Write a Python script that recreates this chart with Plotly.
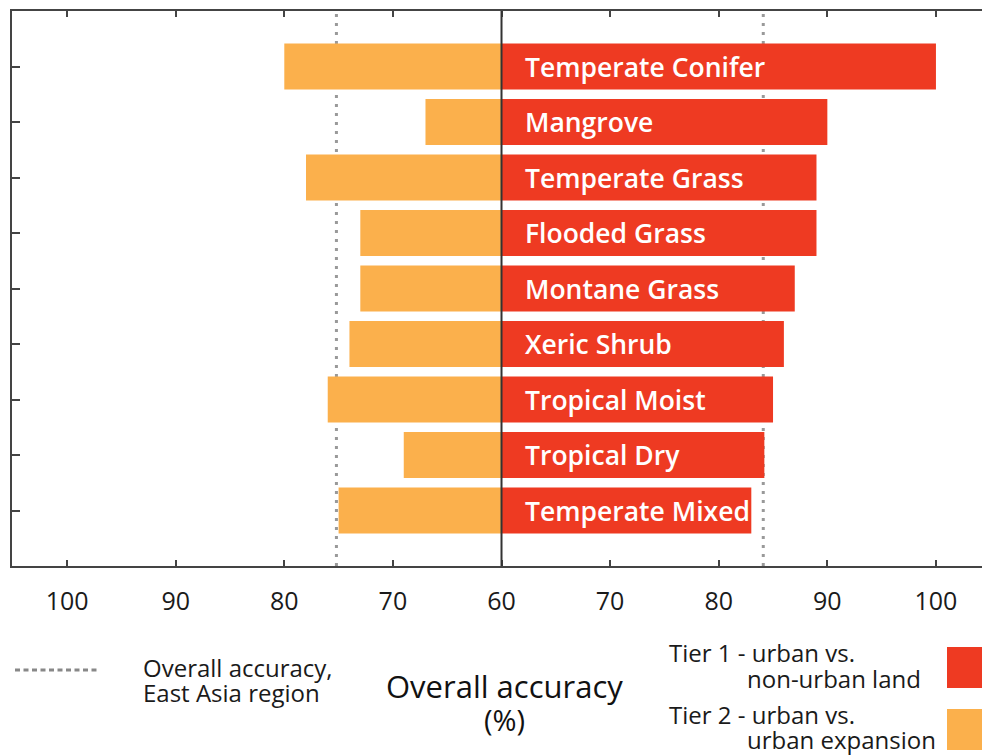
import plotly.graph_objects as go

# ---- data ----
categories = ["Temperate Conifer", "Mangrove", "Temperate Grass", "Flooded Grass",
              "Montane Grass", "Xeric Shrub", "Tropical Moist", "Tropical Dry",
              "Temperate Mixed"]
tier1_accuracy = [100, 90, 89, 89, 87, 86, 85, 84.2, 83]   # urban vs non-urban land
tier2_accuracy = [80, 67, 78, 73, 73, 74, 76, 69, 75]      # urban vs urban expansion
overall_tier1 = 84.1
overall_tier2 = 75.2
center_value = 60
tick_values = [100, 90, 80, 70, 60, 70, 80, 90, 100]
tick_offsets = [-40, -30, -20, -10, 0, 10, 20, 30, 40]

RED = "#EE3A22"
ORANGE = "#FBB04C"
FRAME = "#444444"
FONT = "Open Sans"

W, H = 982, 756
L, R, T, B = 12, 0, 11, 190
PW, PH = W - L - R, H - T - B


def px(x):
    return (x - L) / PW


def py(y):
    return (H - B - y) / PH


right_vals = [v - center_value for v in tier1_accuracy]
left_vals = [-(v - center_value) for v in tier2_accuracy]

fig = go.Figure()
fig.add_trace(go.Bar(y=categories, x=left_vals, orientation="h", marker_color=ORANGE,
                     marker_line_width=0, width=0.83, name="Tier 2", showlegend=False))
fig.add_trace(go.Bar(y=categories, x=right_vals, orientation="h", marker_color=RED,
                     marker_line_width=0, width=0.83, name="Tier 1", showlegend=False))

shapes = []
# overall accuracy dashed lines
for xv in [-(overall_tier2 - center_value), overall_tier1 - center_value]:
    shapes.append(dict(type="line", xref="x", yref="paper", x0=xv, x1=xv, y0=0, y1=1,
                       line=dict(color="#999999", width=3, dash="3px,6px"), layer="below"))
# center line
shapes.append(dict(type="line", xref="x", yref="paper", x0=0, x1=0, y0=0, y1=1,
                   line=dict(color="#333333", width=2), layer="above"))
# legend dashed sample
shapes.append(dict(type="line", xref="paper", yref="paper", x0=px(15), x1=px(98),
                   y0=py(670), y1=py(670),
                   line=dict(color="#888888", width=3, dash="5px,3.5px")))
# legend colour boxes
shapes.append(dict(type="rect", xref="paper", yref="paper", x0=px(947), x1=px(990),
                   y0=py(688), y1=py(647), fillcolor=RED, line_width=0))
shapes.append(dict(type="rect", xref="paper", yref="paper", x0=px(947), x1=px(990),
                   y0=py(750), y1=py(709), fillcolor=ORANGE, line_width=0))

annotations = []
for c in categories:
    annotations.append(dict(x=0, y=c, xref="x", yref="y", text=c, showarrow=False,
                            xanchor="left", xshift=21, yshift=0,
                            font=dict(family=FONT, size=26.5, color="white", weight=600)))

txt = dict(family=FONT, size=24, color="#1a1a1a")
def add_text(x, y, s, font, anchor="left"):
    annotations.append(dict(x=px(x), y=py(y), xref="paper", yref="paper", text=s,
                            showarrow=False, xanchor=anchor, yanchor="middle", font=font))

add_text(141, 667, "Overall accuracy,", txt)
add_text(141, 693, "East Asia region", txt)
add_text(504, 686, "Overall accuracy", dict(family=FONT, size=31, color="#111111"), "center")
add_text(504, 719, "(%)", dict(family=FONT, size=29, color="#111111"), "center")
add_text(667, 652, "Tier 1 - urban vs.", txt)
add_text(745, 678, "non-urban land", txt)
add_text(667, 714, "Tier 2 - urban vs.", txt)
add_text(745, 739, "urban expansion", txt)

fig.update_layout(
    width=W, height=H,
    margin=dict(l=L, r=R, t=T, b=B, pad=0),
    paper_bgcolor="white", plot_bgcolor="rgba(0,0,0,0)",
    barmode="overlay",
    shapes=shapes, annotations=annotations,
    xaxis=dict(range=[-45.07, 44.24], tickvals=tick_offsets,
               ticktext=[str(v) for v in tick_values],
               showgrid=False, zeroline=False, showline=True, linecolor=FRAME,
               linewidth=1.5, mirror="ticks", ticks="inside", ticklen=6, tickwidth=1.5,
               tickcolor=FRAME, tickfont=dict(family=FONT, size=25, color="#1a1a1a"),
               ticklabelstandoff=12, fixedrange=True),
    yaxis=dict(type="category", categoryorder="array", categoryarray=categories,
               range=[9, -1], showgrid=False, zeroline=False, showline=True,
               linecolor=FRAME, linewidth=1.5, ticks="inside", ticklen=8,
               tickwidth=1.5, tickcolor=FRAME, showticklabels=False, fixedrange=True),
    font=dict(family=FONT),
)

fig.write_html("out.html", config={"displayModeBar": False},
               post_script="document.body.style.margin='0';document.body.style.overflow='hidden';")
